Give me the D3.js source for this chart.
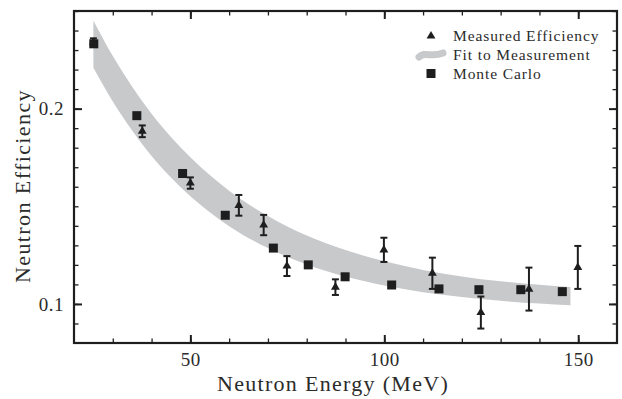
<!DOCTYPE html>
<html>
<head>
<meta charset="utf-8">
<script src="https://cdn.jsdelivr.net/npm/d3@7"></script>
<style>
  body { margin: 0; background: #fff; }
  text { font-family: "Liberation Serif", "DejaVu Serif", serif; fill: #2b2b2b; }
</style>
</head>
<body>
<div id="chart"></div>
<script>
// Monte Carlo points
const mcEnergy = [25.1, 36.2, 48.0, 59.0, 71.4, 80.4, 89.9, 101.9, 114.1, 124.4, 135.2, 145.9];
const mcEff = [0.2332, 0.1964, 0.1668, 0.1454, 0.1286, 0.1200, 0.1139, 0.1097, 0.1077, 0.1073, 0.1073, 0.1063];

// measured efficiency with errors
const measEnergy = [25.0, 37.6, 50.0, 62.5, 68.9, 74.9, 87.4, 99.9, 112.4, 124.9, 137.3, 149.9];
const measEff = [0.2340, 0.1884, 0.1619, 0.1505, 0.1404, 0.1194, 0.1086, 0.1277, 0.1157, 0.0956, 0.1076, 0.1187];
const measErr = [0.0020, 0.0030, 0.0029, 0.0053, 0.0052, 0.0051, 0.0040, 0.0062, 0.0080, 0.0082, 0.0110, 0.0110];

// fit band (upper / lower edge)
const bandEnergy = [25, 30, 35, 40, 45, 50, 60, 70, 80, 90, 100, 110, 120, 130, 140, 148];
const bandUpper = [0.2450, 0.2269, 0.2112, 0.1974, 0.1855, 0.1751, 0.1580, 0.1450, 0.1350, 0.1276, 0.1218, 0.1174, 0.1141, 0.1116, 0.1098, 0.1087];
const bandLower = [0.2210, 0.2037, 0.1888, 0.1758, 0.1647, 0.1551, 0.1398, 0.1286, 0.1202, 0.1140, 0.1094, 0.1060, 0.1035, 0.1016, 0.1002, 0.0993];

const xTicks = [50, 100, 150];
const yTicks = [0.1, 0.2];
const legendLabels = ["Measured Efficiency", "Fit to Measurement", "Monte Carlo"];

const svgWidth = 622;
const svgHeight = 399;

const chartMargin = {
  top: 11,
  right: 5,
  bottom: 56,
  left: 74
};

const width = svgWidth - chartMargin.left - chartMargin.right;
const height = svgHeight - chartMargin.top - chartMargin.bottom;

const ink = "#1e1e1e";

const svg = d3.select("#chart")
  .append("svg")
  .attr("width", svgWidth)
  .attr("height", svgHeight);

const chartGroup = svg.append("g")
  .attr("transform", `translate(${chartMargin.left}, ${chartMargin.top})`);

const xScale = d3.scaleLinear().domain([20, 160]).range([0, width]);
const yScale = d3.scaleLinear().domain([0.08, 0.25]).range([height, 0]);

// band
const band = bandEnergy.map((e, i) => ({ e: e, hi: bandUpper[i], lo: bandLower[i] }));
const area = d3.area()
  .x(d => xScale(d.e))
  .y0(d => yScale(d.lo))
  .y1(d => yScale(d.hi))
  .curve(d3.curveMonotoneX);

chartGroup.append("path")
  .datum(band)
  .attr("d", area)
  .attr("fill", "#c8c9cb");

// axes: ticks pointing inward on all four sides
const xMinor = d3.range(30, 160, 10);
const yMinor = d3.range(0.09, 0.2500001, 0.01);

function addAxis(axis, transform, minor, major, label) {
  const g = chartGroup.append("g")
    .attr("transform", transform)
    .call(axis.tickValues(minor).tickSize(-4.5).tickFormat(""));
  g.select(".domain").remove();
  g.selectAll("line").attr("stroke", ink).attr("stroke-width", 1.3);
  const g2 = chartGroup.append("g")
    .attr("transform", transform)
    .call(axis.tickValues(major).tickSize(-8).tickPadding(10).tickFormat(label ? d3.format("") : ""));
  g2.select(".domain").remove();
  g2.selectAll("line").attr("stroke", ink).attr("stroke-width", 2);
  g2.selectAll("text")
    .attr("font-size", 19)
    .attr("letter-spacing", 0.5)
    .attr("fill", "#2b2b2b");
  return g2;
}

addAxis(d3.axisBottom(xScale), `translate(0, ${height})`, xMinor, xTicks, true);
addAxis(d3.axisTop(xScale), "translate(0, 0)", xMinor, xTicks, false);
addAxis(d3.axisLeft(yScale), "translate(0, 0)", yMinor, yTicks, true);
addAxis(d3.axisRight(yScale), `translate(${width}, 0)`, yMinor, yTicks, false);

chartGroup.append("rect")
  .attr("width", width)
  .attr("height", height)
  .attr("fill", "none")
  .attr("stroke", ink)
  .attr("stroke-width", 2.2);

// Monte Carlo squares
chartGroup.selectAll(".mc")
  .data(mcEnergy)
  .enter()
  .append("rect")
  .attr("x", (d, i) => xScale(d) - 4.5)
  .attr("y", (d, i) => yScale(mcEff[i]) - 4.5)
  .attr("width", 9)
  .attr("height", 9)
  .attr("fill", ink);

// error bars
const meas = measEnergy.map((e, i) => ({ e: e, v: measEff[i], err: measErr[i] }));
const errGroup = chartGroup.selectAll(".err")
  .data(meas)
  .enter()
  .append("g")
  .attr("stroke", ink)
  .attr("stroke-width", 2);

errGroup.append("line")
  .attr("x1", d => xScale(d.e)).attr("x2", d => xScale(d.e))
  .attr("y1", d => yScale(d.v - d.err)).attr("y2", d => yScale(d.v + d.err));
errGroup.append("line")
  .attr("x1", d => xScale(d.e) - 3.5).attr("x2", d => xScale(d.e) + 3.5)
  .attr("y1", d => yScale(d.v + d.err)).attr("y2", d => yScale(d.v + d.err));
errGroup.append("line")
  .attr("x1", d => xScale(d.e) - 3.5).attr("x2", d => xScale(d.e) + 3.5)
  .attr("y1", d => yScale(d.v - d.err)).attr("y2", d => yScale(d.v - d.err));

const triangle = d3.symbol().type(d3.symbolTriangle).size(34);
chartGroup.selectAll(".meas")
  .data(meas)
  .enter()
  .append("path")
  .attr("d", triangle)
  .attr("transform", d => `translate(${xScale(d.e)}, ${yScale(d.v)})`)
  .attr("fill", ink);

// axis titles
svg.append("text")
  .attr("x", 333)
  .attr("y", 391)
  .attr("text-anchor", "middle")
  .attr("font-size", 22)
  .attr("letter-spacing", 1.3)
  .text("Neutron Energy (MeV)");

svg.append("text")
  .attr("transform", "translate(30, 186) rotate(-90)")
  .attr("text-anchor", "middle")
  .attr("font-size", 22)
  .attr("letter-spacing", 1.4)
  .text("Neutron Efficiency");

// legend
const legend = svg.append("g").attr("transform", "translate(431, 36)");
legend.append("path")
  .attr("d", triangle)
  .attr("fill", ink);
legend.append("path")
  .attr("d", "M-12,21 C-6,15 0,22 12,17")
  .attr("fill", "none")
  .attr("stroke", "#c8c9cb")
  .attr("stroke-width", 7)
  .attr("stroke-linecap", "round");
legend.append("rect")
  .attr("x", -4.5).attr("y", 33)
  .attr("width", 9).attr("height", 9)
  .attr("fill", ink);
legend.selectAll(".lab")
  .data(legendLabels)
  .enter()
  .append("text")
  .attr("x", 22)
  .attr("y", (d, i) => 5 + i * 19)
  .attr("font-size", 15.5)
  .attr("letter-spacing", 0.9)
  .text(d => d);
</script>
</body>
</html>
